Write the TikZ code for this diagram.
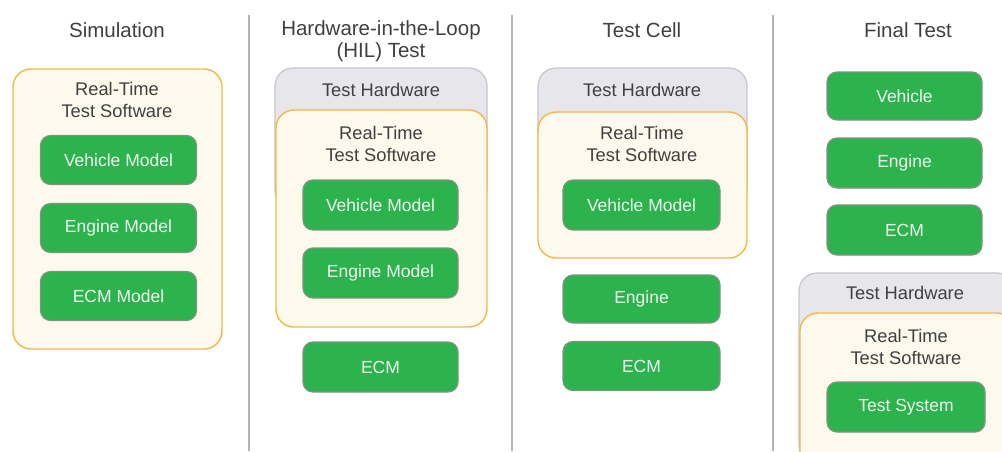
\documentclass[tikz,border=0pt]{standalone}
\usepackage{fontspec}
\setmainfont{Liberation Sans}
\definecolor{gfill}{HTML}{2DB34D}
\definecolor{gline}{HTML}{7E9480}
\definecolor{ofill}{HTML}{FDF9EC}
\definecolor{oline}{HTML}{F0B84A}
\definecolor{hfill}{HTML}{E7E7EB}
\definecolor{hline}{HTML}{C6C6CB}
\definecolor{txt}{HTML}{404040}
\definecolor{gtxt}{HTML}{EEF6EE}
\definecolor{sep}{HTML}{B4B4B4}
\tikzset{
  greenbox/.style={draw=gline, line width=1.2pt, fill=gfill, rounded corners=10pt, text=gtxt, font=\fontsize{17.5}{19}\selectfont, inner sep=0pt},
  swbox/.style={draw=oline, line width=1.4pt, fill=ofill, rounded corners=18pt, inner sep=0pt},
  hwbox/.style={draw=hline, line width=1.2pt, fill=hfill, rounded corners=18pt, inner sep=0pt},
  title/.style={text=txt, font=\fontsize{20.5}{22}\selectfont, align=center, inner sep=0pt},
  lbl/.style={text=txt, font=\fontsize{18.3}{21.5}\selectfont, align=center, inner sep=0pt},
  sepline/.style={draw=sep, line width=2.4pt}
}
\begin{document}
\begin{tikzpicture}[x=1pt,y=-1pt]
\clip (0,0) rectangle (1002,451);
\fill[white] (0,0) rectangle (1002,451);
% separators
\coordinate (s1t) at (249,15); \coordinate (s1b) at (249,451);
\coordinate (s2t) at (512,15); \coordinate (s2b) at (512,451);
\coordinate (s3t) at (773,15); \coordinate (s3b) at (773,451);
\draw[sepline] (s1t) -- (s1b);
\draw[sepline] (s2t) -- (s2b);
\draw[sepline] (s3t) -- (s3b);

% Column 1: Simulation
\node[title] (t1) at (117,30) {Simulation};
\node[swbox, minimum width=209pt, minimum height=280pt] (sw1) at (117.5,209) {};
\node[lbl] (sl1) at (117,100) {Real-Time\\Test Software};
\node[greenbox, minimum width=156pt, minimum height=49pt] (vm1) at (118.5,160) {Vehicle Model};
\node[greenbox, minimum width=156pt, minimum height=49pt] (em1) at (118.5,228) {Engine Model};
\node[greenbox, minimum width=156pt, minimum height=49pt] (ecm1) at (118.5,296) {ECM Model};

% Column 2: HIL
\node[title] (t2) at (381,41) {Hardware-in-the-Loop\\(HIL) Test};
\node[hwbox, minimum width=212pt, minimum height=140pt] (hw2) at (381,138) {};
\node[lbl] (hl2) at (381,90) {Test Hardware};
\node[swbox, minimum width=211pt, minimum height=217pt] (sw2) at (381.5,218.5) {};
\node[lbl] (sl2) at (381,144) {Real-Time\\Test Software};
\node[greenbox, minimum width=155pt, minimum height=50pt] (vm2) at (380.5,205) {Vehicle Model};
\node[greenbox, minimum width=155pt, minimum height=50pt] (em2) at (380.5,273) {Engine Model};
\node[greenbox, minimum width=155pt, minimum height=50pt] (ecm2) at (380.5,367) {ECM};

% Column 3: Test Cell
\node[title] (t3) at (642,30) {Test Cell};
\node[hwbox, minimum width=209pt, minimum height=140pt] (hw3) at (642.5,138) {};
\node[lbl] (hl3) at (642,90) {Test Hardware};
\node[swbox, minimum width=209pt, minimum height=146pt] (sw3) at (642.5,185) {};
\node[lbl] (sl3) at (642,144) {Real-Time\\Test Software};
\node[greenbox, minimum width=157pt, minimum height=50pt] (vm3) at (641.5,205) {Vehicle Model};
\node[greenbox, minimum width=157pt, minimum height=48pt] (en3) at (641.5,299) {Engine};
\node[greenbox, minimum width=157pt, minimum height=49pt] (ecm3) at (641.5,366) {ECM};

% Column 4: Final Test
\node[title] (t4) at (908,30) {Final Test};
\node[greenbox, minimum width=155pt, minimum height=48pt] (ve4) at (904.5,96) {Vehicle};
\node[greenbox, minimum width=155pt, minimum height=50pt] (en4) at (904.5,163) {Engine};
\node[greenbox, minimum width=155pt, minimum height=50pt] (ecm4) at (904.5,230) {ECM};
\node[hwbox, minimum width=216pt, minimum height=190pt] (hw4) at (907,368) {};
\node[lbl] (hl4) at (905,293) {Test Hardware};
\node[swbox, minimum width=215pt, minimum height=160pt] (sw4) at (907.5,393) {};
\node[lbl] (sl4) at (906,347) {Real-Time\\Test Software};
\node[greenbox, minimum width=158pt, minimum height=50pt] (ts4) at (906,407) {Test System};
\end{tikzpicture}
\end{document}
